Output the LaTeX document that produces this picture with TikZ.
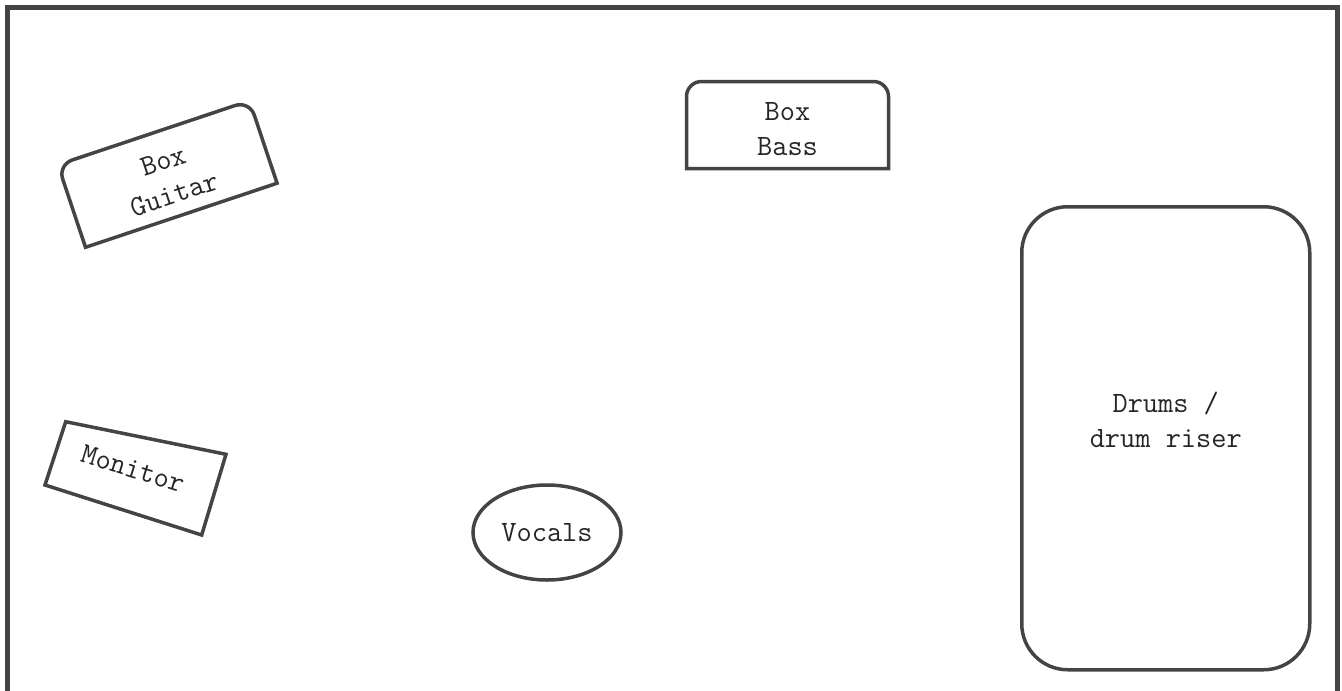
\documentclass[tikz,border=0pt]{standalone}
\usepackage{fontspec}
\usetikzlibrary{shapes.geometric}
\definecolor{stroke}{HTML}{444444}
\begin{document}
\begin{tikzpicture}[x=1pt, y=-1pt,
  wall/.style={draw=stroke, line width=5pt},
  part/.style={draw=stroke, line width=3.5pt},
  txt/.style={font=\fontsize{29.5}{35}\selectfont\ttfamily, align=center, text=black!85, inner sep=0pt}]
\useasboundingbox (0,0) rectangle (1342,691);
\clip (0,0) rectangle (1342,691);
% stage walls, open to the front
\draw[wall] (7.5,700) -- (7.5,7.5) -- (1337.5,7.5) -- (1337.5,700);
% amps
\draw[part, shift={(787.5,125)}] (-101,43.5) -- (-101,-28.5) arc[start angle=180, end angle=270, radius=15]
  -- (86,-43.5) arc[start angle=270, end angle=360, radius=15] -- (101,43.5) -- cycle;
\node[txt] (bass) at (787.5,129) {Box\\Bass};
\begin{scope}[shift={(167.5,174)}, rotate=18.5]
\draw[part] (-101,43.5) -- (-101,-28.5) arc[start angle=180, end angle=270, radius=15]
  -- (86,-43.5) arc[start angle=270, end angle=360, radius=15] -- (101,43.5) -- cycle;
\node[txt, transform shape] (guitar) at (0,4) {Box\\Guitar};
\end{scope}
% wedge
\draw[part] (65.7,421.7) -- (226,454.3) -- (201.7,535) -- (45,485) -- cycle;
\node[txt, rotate=-17] (monitor) at (133,469) {Monitor};
% front
\node[part, txt, ellipse, minimum width=148pt, minimum height=95pt] (vocals) at (547,532.5) {Vocals};
% back
\node[part, rounded corners=46pt, minimum width=288pt, minimum height=463pt] (drums) at (1165.75,438.25) {};
\node[txt] (drumtext) at (1165.75,420) {Drums /\\drum riser};
\end{tikzpicture}
\end{document}
